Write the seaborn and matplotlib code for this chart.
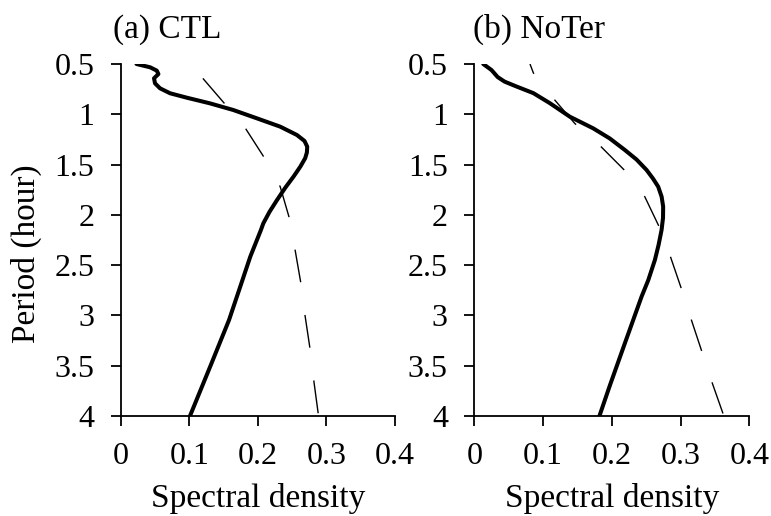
"""
plot.py

Spektraldichte über Periode, zwei Läufe (CTL und NoTer),
dicke Linie = Spektrum, gestrichelt = Referenzspektrum.
"""

import matplotlib
matplotlib.use("Agg")
import matplotlib.pyplot as plt
import pandas as pd
import seaborn as sns

# (a) CTL
ctl_period = [0.5, 0.533, 0.566, 0.60, 0.642, 0.692, 0.742, 0.791, 0.835, 0.891,
              0.957, 1.04, 1.123, 1.206, 1.265, 1.322, 1.38, 1.437, 1.52, 1.62,
              1.73, 1.852, 1.97, 2.084, 2.15, 2.415, 2.7, 3.045, 3.5, 4.0]
ctl_density = [0.023, 0.043, 0.0526, 0.055, 0.0486, 0.050, 0.0574, 0.072, 0.0964, 0.130,
               0.164, 0.1985, 0.2326, 0.257, 0.268, 0.272, 0.2715, 0.269, 0.262, 0.252,
               0.240, 0.228, 0.217, 0.208, 0.2045, 0.189, 0.175, 0.158, 0.131, 0.101]
ctl_ref_period = [0.5, 0.642, 0.89, 1.146, 1.427, 1.72, 2.034, 2.356, 2.69, 3.01,
                  3.35, 3.67, 4.0]
ctl_ref_density = [0.102, 0.1197, 0.151, 0.1825, 0.209, 0.2326, 0.246, 0.2545, 0.263, 0.269,
                   0.2765, 0.282, 0.2885]

# (b) NoTer
noter_period = [0.5, 0.56, 0.63, 0.675, 0.72, 0.79, 0.89, 1.024, 1.14, 1.24,
                1.355, 1.45, 1.554, 1.64, 1.72, 1.82, 1.918, 2.03, 2.15,
                2.3, 2.448, 2.65, 2.813, 3.3, 3.7, 4.0]
noter_density = [0.013, 0.025, 0.034, 0.044, 0.060, 0.086, 0.110, 0.139, 0.173, 0.197,
                 0.219, 0.236, 0.2506, 0.260, 0.2675, 0.2725, 0.2747, 0.2745, 0.2724,
                 0.268, 0.2627, 0.253, 0.2433, 0.2178, 0.197, 0.182]
noter_ref_period = [0.5, 0.59, 0.72, 0.85, 1.09, 1.32, 1.56, 1.82, 2.12, 2.42,
                    2.75, 3.05, 3.38, 3.68, 4.0]
noter_ref_density = [0.081, 0.086, 0.101, 0.116, 0.146, 0.184, 0.219, 0.248, 0.269, 0.2855,
                     0.302, 0.316, 0.332, 0.3465, 0.363]

panel_titles = ["(a) CTL", "(b) NoTer"]
x_ticks = [0, 0.1, 0.2, 0.3, 0.4]
x_ticklabels = ["0", "0.1", "0.2", "0.3", "0.4"]
y_ticks = [0.5, 1, 1.5, 2, 2.5, 3, 3.5, 4]
y_ticklabels = ["0.5", "1", "1.5", "2", "2.5", "3", "3.5", "4"]

sns.set_theme(style="ticks")
plt.rcParams["font.family"] = ["Liberation Serif", "DejaVu Serif"]
plt.rcParams["text.color"] = "black"
plt.rcParams["lines.scale_dashes"] = False
FS_TICK = 23
FS_LABEL = 24

W, H = 771, 516
fig = plt.figure(figsize=(W / 100, H / 100), dpi=100)
ax_a = fig.add_axes([120.7 / W, 1 - 416 / H, 274.3 / W, 352 / H])
ax_b = fig.add_axes([474.3 / W, 1 - 416 / H, 275.0 / W, 352 / H])

panels = [
    (ax_a, ctl_period, ctl_density, ctl_ref_period, ctl_ref_density, 34.0),
    (ax_b, noter_period, noter_density, noter_ref_period, noter_ref_density, 16.2),
]

for ax, per, dens, rper, rdens, dash_off in panels:
    df = pd.DataFrame({"period": per, "density": dens})
    df_ref = pd.DataFrame({"period": rper, "density": rdens})
    sns.lineplot(data=df, x="density", y="period", sort=False, estimator=None,
                 color="black", linewidth=2.9, ax=ax)
    sns.lineplot(data=df_ref, x="density", y="period", sort=False, estimator=None,
                 color="black", linewidth=1.0, linestyle=(dash_off, (23.8, 23.8)), ax=ax)

    ax.set_xlim(0, 0.4)
    ax.set_ylim(4, 0.5)
    ax.set_xticks(x_ticks)
    ax.set_xticklabels(x_ticklabels)
    ax.set_yticks(y_ticks)
    ax.set_yticklabels(y_ticklabels)
    ax.tick_params(axis="both", direction="out", length=7, width=1.3,
                   labelsize=FS_TICK, color="black", labelcolor="black")
    ax.tick_params(axis="y", pad=12)
    ax.tick_params(axis="x", pad=12)
    for side in ["top", "right"]:
        ax.spines[side].set_visible(False)
    for side in ["left", "bottom"]:
        ax.spines[side].set_linewidth(1.3)
        ax.spines[side].set_color("black")
    ax.set_ylabel("")
    ax.set_xlabel("Spectral density", fontsize=FS_LABEL, color="black", labelpad=8)
    ax.set_facecolor("white")

fig.text(112.7 / W, 1 - 37.5 / H, panel_titles[0], fontsize=FS_LABEL, ha="left", va="baseline")
fig.text(472.7 / W, 1 - 37.5 / H, panel_titles[1], fontsize=FS_LABEL, ha="left", va="baseline")
fig.text(26 / W, 1 - 254 / H, "Period (hour)", fontsize=FS_LABEL, rotation=90,
         ha="center", va="center")

fig.savefig("out.png", dpi=100, facecolor="white")
plt.close(fig)
